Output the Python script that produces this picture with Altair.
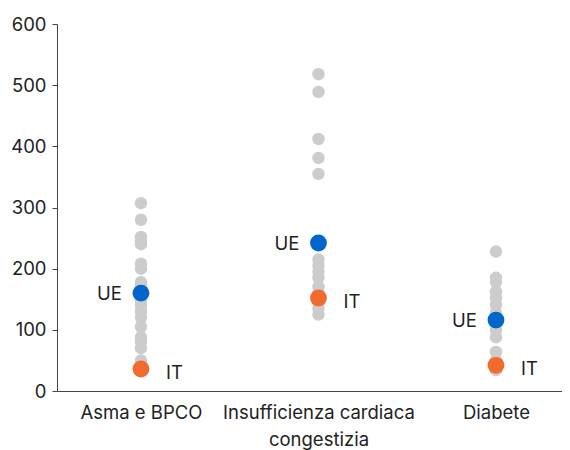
import altair as alt
import pandas as pd

categories = ["Asma e BPCO", "Insufficienza cardiaca|congestizia", "Diabete"]

asma_values = [307, 280, 252, 245, 240, 208, 200, 178, 172, 165, 155, 148, 140,
               130, 120, 105, 88, 80, 70, 50, 45]
icc_values = [518, 489, 412, 381, 355, 215, 205, 195, 185, 170, 160, 145, 135, 125]
diab_values = [228, 185, 178, 162, 152, 141, 128, 100, 88, 64, 50, 34]

ue_values = [160, 242, 116]
it_values = [36, 152, 42]

rows = []
for i, (cat, vals) in enumerate(zip(categories, [asma_values, icc_values, diab_values])):
    for v in vals:
        rows.append({"idx": i, "cat": cat, "value": v})
gray = pd.DataFrame(rows)

hl_rows = []
for i, (cat, ue, it) in enumerate(zip(categories, ue_values, it_values)):
    hl_rows.append({"idx": i, "cat": cat, "value": ue, "grp": "UE"})
    hl_rows.append({"idx": i, "cat": cat, "value": it, "grp": "IT"})
hl = pd.DataFrame(hl_rows)

FONT = "Inter"
FS = 18.5

label_expr = ("datum.value == 0 ? 'Asma e BPCO' : datum.value == 1 ? "
              "['Insufficienza cardiaca', 'congestizia'] : 'Diabete'")

x = alt.X("idx:Q", title=None,
          scale=alt.Scale(domain=[-0.473, 2.372], nice=False, zero=False),
          axis=alt.Axis(values=[0, 1, 2], labelExpr=label_expr, labelAngle=0,
                        ticks=False, labelFontSize=FS, labelColor="#222222",
                        labelFont=FONT, labelPadding=12, labelLineHeight=27,
                        domainColor="#444444", labelLimit=300, grid=False,
                        labelFlush=False, labelOverlap=False))
y = alt.Y("value:Q", title=None,
          scale=alt.Scale(domain=[0, 600], nice=False),
          axis=alt.Axis(values=[0, 100, 200, 300, 400, 500, 600], grid=False,
                        tickSize=5, tickColor="#444444", domainColor="#444444",
                        labelFontSize=FS, labelColor="#222222", labelFont=FONT,
                        labelPadding=6))

base_gray = alt.Chart(gray).mark_circle(size=155, opacity=1, color="#CCCCCC").encode(x=x, y=y)

color = alt.Color("grp:N", scale=alt.Scale(domain=["UE", "IT"], range=["#0066CC", "#F26A2E"]),
                  legend=None)
dots = alt.Chart(hl).mark_circle(size=283, opacity=1).encode(x=x, y=y, color=color)

ue_text = alt.Chart(hl).transform_filter(alt.datum.grp == "UE").mark_text(
    align="right", baseline="middle", dx=-19, dy=1, fontSize=FS, font=FONT, color="#222222"
).encode(x=x, y=y, text="grp:N")
it_text = alt.Chart(hl).transform_filter(alt.datum.grp == "IT").mark_text(
    align="left", baseline="middle", dx=25, dy=4, fontSize=FS, font=FONT, color="#222222"
).encode(x=x, y=y, text="grp:N")

chart = (base_gray + dots + ue_text + it_text).properties(
    width=505, height=367,
    background="white",
    autosize=alt.AutoSizeParams(type="none"),
    padding={"left": 49, "top": 16, "right": 0, "bottom": 60},
).configure_view(strokeWidth=0, stroke="transparent")

chart.save("out.html", embed_options={"renderer": "svg", "actions": False})
